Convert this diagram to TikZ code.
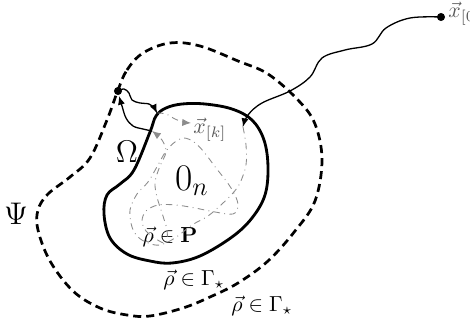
\documentclass[tikz,border=0pt]{standalone}
\usetikzlibrary{arrows.meta}
\begin{document}
\begin{tikzpicture}[x=0.46pt,y=-0.46pt,
  boundary/.style={line width=1.3pt},
  outer/.style={line width=1.25pt, dash pattern=on 3.7pt off 2.3pt},
  flow/.style={line width=0.6pt, -{Latex[length=4pt,width=3.3pt]}},
  traj/.style={black!45, line width=0.4pt, dash dot, -{Latex[length=4pt,width=3.3pt]}},
  graylab/.style={text=black!65, inner sep=0pt},
  dot/.style={circle, fill, inner sep=0pt, minimum size=3.7pt}]
\useasboundingbox (0,0) rectangle (470,322);

% set Omega (solid boundary)
\draw[boundary] plot[smooth cycle, tension=0.6] coordinates {
  (150,132) (156,116) (166,108) (182,104) (205,104) (232,109) (252,120)
  (264,140) (268,167) (265,195) (252,218) (232,237) (200,256) (172,263)
  (150,261) (127,254) (110,238) (104,214) (107,195) (120,184) (134,170)};

% set Psi (dashed boundary)
\draw[outer] plot[smooth cycle, tension=0.6] coordinates {
  (118,90) (127,70) (143,53) (170,43) (200,46) (238,61) (268,74) (298,100)
  (315,124) (322,160) (315,201) (295,231) (268,261) (238,283) (210,297)
  (183,308) (150,316) (127,315) (100,308) (73,291) (50,261) (38,230)
  (38,210) (48,194) (70,177) (90,158) (107,120)};

% key points
\node[dot] (x0) at (441,17) {};
\node[dot] (d) at (118,91) {};
\coordinate (E) at (243,127);
\coordinate (K) at (157,113);
\coordinate (B) at (152,131);

% labels
\node[graylab, anchor=west] (lx0) at (448,14) {$\vec{x}_{[0]}$};
\node[graylab, anchor=west] (lxk) at (193,130) {$\vec{x}_{[k]}$};
\node (om) at (127,152) {\Large$\Omega$};
\node (psi) at (16,214) {\Large$\Psi$};
\node (zero) at (192,181) {\LARGE$0_n$};
\node (rp) at (170,237) {$\vec\rho\in\mathbf{P}$};
\node (rg1) at (194,280) {$\vec\rho\in\Gamma_\star$};
\node (rg2) at (262,306) {$\vec\rho\in\Gamma_\star$};

% trajectory from the initial state to the boundary of Omega
\draw[flow] plot[smooth, tension=0.6] coordinates {
  (x0.center) (410,18) (386,28) (372,44) (345,50) (322,58) (310,77)
  (290,91) (262,103) (248,115) (E)};

% trajectory inside Omega
\draw[traj] plot[smooth, tension=0.55] coordinates {
  (E) (246,145) (246,165) (240,183) (233,193) (222,204) (208,216)
  (192,225) (175,238) (160,245) (148,243) (138,237) (132,227) (130,210)
  (137,194) (148,182) (158,165) (166,151) (175,142) (184,138) (194,142)
  (204,152) (216,168) (227,182) (235,195) (238,206) (233,214) (215,212)
  (195,208) (176,205) (158,205) (146,211) (142,221) (146,231) (156,239)
  (166,243) (167,230) (162,213) (157,197) (155,182) (160,166) (166,152)
  (162,140) (B)};
\draw[traj] plot[smooth, tension=0.6] coordinates {
  (K) (166,114) (175,119) (183,122) (191,123)};

% transfers between the boundary of Omega and the point on Psi
\draw[flow] plot[smooth, tension=0.6] coordinates {
  (d.center) (124,89) (129,93) (132,100) (140,103) (149,104) (154,108) (K)};
\draw[flow] plot[smooth, tension=0.6] coordinates {
  (B) (143,129) (133,126) (126,118) (122,106) (119,96)};
\end{tikzpicture}
\end{document}
